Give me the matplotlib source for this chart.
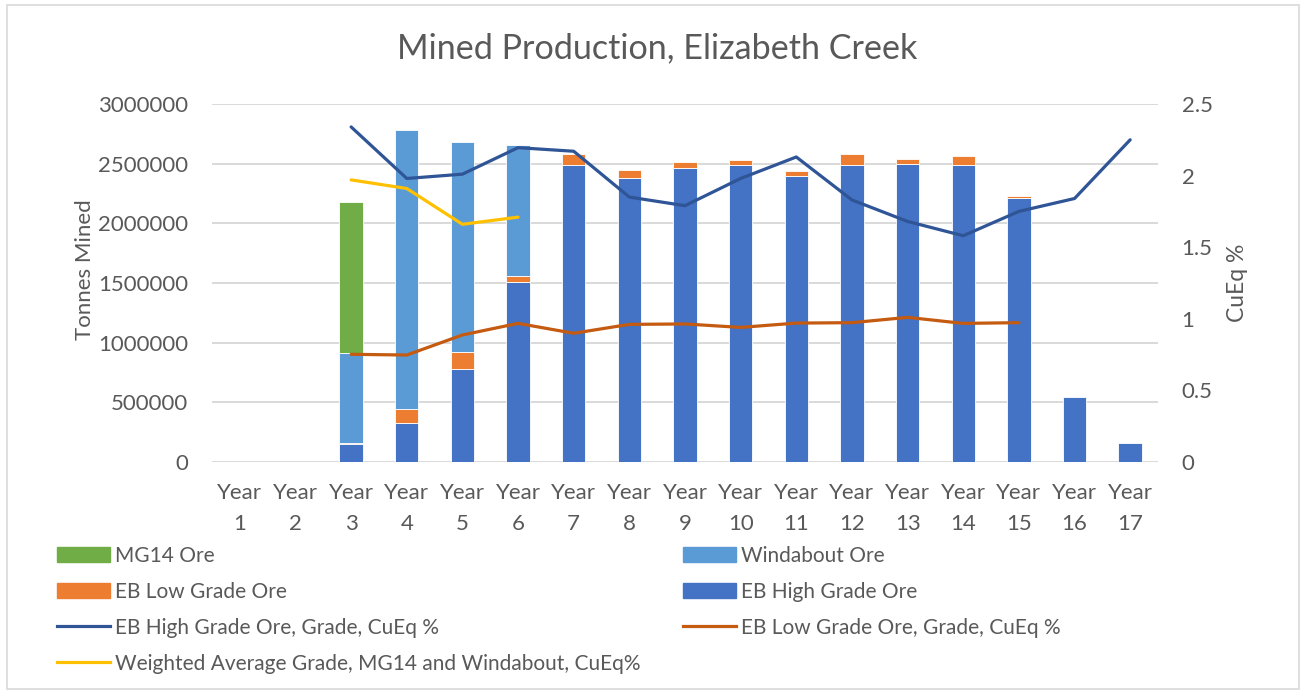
import numpy as np
import matplotlib
matplotlib.use("Agg")
import matplotlib.pyplot as plt
from matplotlib.patches import Patch, Rectangle
from matplotlib.lines import Line2D

nan = np.nan
YEARS = [f"Year\n{i}" for i in range(1, 18)]

# tonnes mined per year (stacked bars, bottom to top)
EB_HIGH = [nan, nan, 150000, 330000, 780000, 1510000, 2490000, 2380000, 2465000,
           2490000, 2400000, 2490000, 2495000, 2485000, 2210000, 542000, 157000]
EB_LOW = [nan, nan, 10000, 110000, 140000, 50000, 95000, 65000, 50000,
          40000, 35000, 90000, 40000, 80000, 20000, nan, nan]
WINDABOUT = [nan, nan, 750000, 2340000, 1765000, 1095000, nan, nan, nan,
             nan, nan, nan, nan, nan, nan, nan, nan]
MG14 = [nan, nan, 1270000, nan, nan, nan, nan, nan, nan,
        nan, nan, nan, nan, nan, nan, nan, nan]

# grades, CuEq %
HG_GRADE = [nan, nan, 2.34, 1.98, 2.01, 2.195, 2.17, 1.85, 1.79, 1.98,
            2.13, 1.83, 1.68, 1.58, 1.75, 1.84, 2.25]
LG_GRADE = [nan, nan, 0.752, 0.747, 0.887, 0.968, 0.899, 0.961, 0.964, 0.94,
            0.97, 0.973, 1.01, 0.968, 0.973, nan, nan]
WAVG_GRADE = [nan, nan, 1.97, 1.91, 1.66, 1.71, nan, nan, nan, nan,
              nan, nan, nan, nan, nan, nan, nan]

C_MG14, C_WIND, C_LOW, C_HIGH = "#70ad47", "#5b9bd5", "#ed7d31", "#4472c4"
C_HGL, C_LGL, C_WAVG = "#2f5597", "#c55a11", "#ffc000"
TXT = "#595959"

plt.rcParams["font.family"] = ["Lato", "DejaVu Sans"]

W, H = 1306, 692
fig = plt.figure(figsize=(W / 100, H / 100), dpi=100)
ax = fig.add_axes([212 / W, 230 / H, 946 / W, 358 / H])
ax2 = ax.twinx()

x = np.arange(len(YEARS))
bottom = np.zeros(len(YEARS))
for vals, col in [(EB_HIGH, C_HIGH), (EB_LOW, C_LOW), (WINDABOUT, C_WIND), (MG14, C_MG14)]:
    v = np.array(vals, dtype=float)
    ax.bar(x, v, 0.42, bottom=bottom, color=col, edgecolor="white", linewidth=0.6, zorder=2)
    bottom = bottom + np.nan_to_num(v)

ax2.plot(x, HG_GRADE, color=C_HGL, lw=2.3, solid_capstyle="round")
ax2.plot(x, LG_GRADE, color=C_LGL, lw=2.3, solid_capstyle="round")
ax2.plot(x, WAVG_GRADE, color=C_WAVG, lw=2.3, solid_capstyle="round")

ax.set_xlim(-0.5, len(YEARS) - 0.5)
ax.set_ylim(0, 3000000)
ax2.set_ylim(0, 2.5)
ax.set_yticks(np.arange(0, 3000001, 500000))
ax.set_yticklabels([str(v) for v in range(0, 3000001, 500000)])
ax2.set_yticks(np.arange(0, 2.51, 0.5))
ax2.set_yticklabels(["0", "0.5", "1", "1.5", "2", "2.5"])
ax.set_xticks(x)
ax.set_xticklabels(YEARS, linespacing=1.7)
ax.grid(axis="y", color="#d9d9d9", lw=1.4)
ax.set_axisbelow(True)
for a in (ax, ax2):
    for s in a.spines.values():
        s.set_visible(False)
ax.tick_params(axis="y", length=0, pad=17, labelsize=16, labelcolor=TXT)
ax.tick_params(axis="x", length=0, pad=15, labelsize=16, labelcolor=TXT)
ax2.tick_params(axis="y", length=0, pad=17, labelsize=16, labelcolor=TXT)

fig.text(657 / W, 1 - 48 / H, "Mined Production, Elizabeth Creek", ha="center", va="center",
         fontsize=24.6, color=TXT)
fig.text(85 / W, 1 - 270 / H, "Tonnes Mined", rotation=90, ha="center", va="center",
         fontsize=16, color=TXT)
fig.text(1237 / W, 1 - 283 / H, "CuEq %", rotation=90, ha="center", va="center",
         fontsize=16.5, color=TXT)

col1 = [Patch(color=C_MG14, label="MG14 Ore"), Patch(color=C_LOW, label="EB Low Grade Ore"),
        Line2D([], [], color=C_HGL, lw=2.3, label="EB High Grade Ore, Grade, CuEq %"),
        Line2D([], [], color=C_WAVG, lw=2.3, label="Weighted Average Grade, MG14 and Windabout, CuEq%")]
col2 = [Patch(color=C_WIND, label="Windabout Ore"), Patch(color=C_HIGH, label="EB High Grade Ore"),
        Line2D([], [], color=C_LGL, lw=2.3, label="EB Low Grade Ore, Grade, CuEq %")]
for handles, x0 in [(col1, 57), (col2, 683)]:
    fig.legend(handles=handles, loc="upper left", bbox_to_anchor=(x0 / W, 1 - 546 / H),
               frameon=False, fontsize=15, labelcolor=TXT, borderpad=0, borderaxespad=0,
               handlelength=2.55, handleheight=0.7, handletextpad=0.25, labelspacing=0.76)

fig.patches.append(Rectangle((7 / W, 3 / H), 1 - 14 / W, 1 - 8 / H, transform=fig.transFigure,
                             fill=False, edgecolor="#d9d9d9", lw=1.2))

fig.savefig("out.png", dpi=100)
